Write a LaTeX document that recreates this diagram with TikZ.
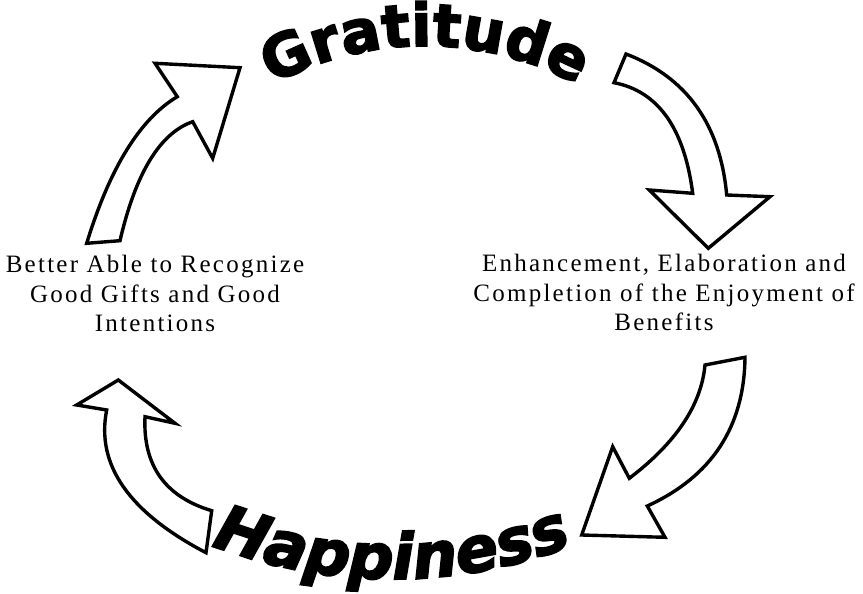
\documentclass[tikz,border=0pt]{standalone}
\usepackage{fontspec}
\setmainfont{Liberation Serif}
\newfontfamily\lblfont{Liberation Serif}[LetterSpace=9]
\font\gratfont="DejaVu Sans/B:embolden=3" at 59pt
\font\hapfont="DejaVu Sans/BI:embolden=3" at 63pt
\usetikzlibrary{decorations.text}
\tikzset{
  blockarrow/.style={draw=black, fill=white, line width=3.4pt, line join=miter},
  lbl/.style={font=\lblfont\fontsize{25}{29.5}\selectfont, align=center, inner sep=0pt, anchor=north},
}
\begin{document}
\begin{tikzpicture}[x=1pt,y=-1pt]
\fill[white] (0,0) rectangle (863,594);
\useasboundingbox (0,0) rectangle (863,594);

% arrow 1: left, up-right towards Gratitude
\draw[blockarrow] (86.7,243.3) .. controls (109.83,167.77) and (140.03,118.9) .. (177.3,96.7)
  -- (155,63.3) -- (240,67.7) -- (212.7,158.3) -- (192.7,121.7)
  .. controls (160,133.1) and (135.77,172.77) .. (120,240.7) -- cycle;

% arrow 2: right, down
\draw[blockarrow] (626,54) -- (614,82.7) .. controls (658,91.17) and (684.23,128.03) .. (692.7,193.3)
  -- (649.3,190) -- (708.3,248.3) -- (770,196.7) -- (726.7,195)
  .. controls (720.23,124.27) and (686.67,77.27) .. (626,54) -- cycle;

% arrow 3: right lower, down-left towards Happiness
\draw[blockarrow] (705,365) -- (745,357.3) .. controls (744.23,426.93) and (711.67,476.5) .. (647.3,506)
  -- (665,537.3) -- (581.7,535) -- (612.7,446.7) -- (629.3,478.3)
  .. controls (676.07,442.73) and (701.3,404.97) .. (705,365) -- cycle;

% arrow 4: left lower, up
\draw[blockarrow] (206,552.7) .. controls (128.83,512.27) and (95.73,464.7) .. (106.7,410)
  -- (76.7,405) -- (118.3,380) -- (175,423.3) -- (145,416.7)
  .. controls (142.77,465.37) and (165,496.7) .. (211.7,510.7) -- cycle;

% arched titles
\path[decorate, decoration={text along path, text align=center,
   text={|\gratfont|Gratitude}}]
  (219.3,120.9) arc[start angle=230, end angle=310, radius=320];
\path[decorate, decoration={text along path, text align=center,
   text={|\hapfont|Happiness}}]
  (180.7,532.2) arc[start angle=115, end angle=65, radius=500];

% labels
\node[lbl] (left) at (155,255) {Better Able to Recognize\\Good Gifts and Good\\Intentions};
\node[lbl] (right) at (664,254) {Enhancement, Elaboration and\\Completion of the Enjoyment of\\Benefits};
\end{tikzpicture}
\end{document}
